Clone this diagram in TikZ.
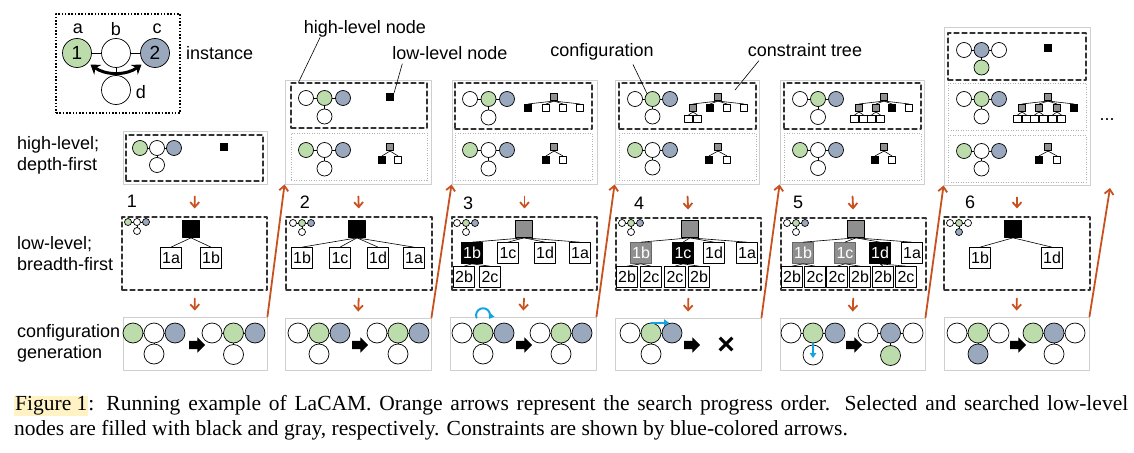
\documentclass[tikz,border=0pt]{standalone}
\usepackage{fontspec}
\setmainfont{Liberation Sans}
\newfontfamily\capfont{Liberation Serif}
\usetikzlibrary{arrows.meta,shapes.arrows,fit}
\definecolor{grn}{HTML}{BDDCAB}
\definecolor{blu}{HTML}{9AA8BD}
\definecolor{org}{HTML}{C8511F}
\definecolor{cyn}{HTML}{14A3E3}
\definecolor{sqg}{HTML}{8F8F8F}
\definecolor{hlite}{HTML}{FFF3C6}
\definecolor{frm}{HTML}{CFCFCF}
% one configuration: name, x, y, spacing, radius, fills of a b c d
\newcommand{\cfg}[9]{%
  \node[vtx, minimum size=2*#5pt, fill=#6] (#1a) at (#2,#3) {};
  \node[vtx, minimum size=2*#5pt, fill=#7] (#1b) at ({#2+#4},#3) {};
  \node[vtx, minimum size=2*#5pt, fill=#8] (#1c) at ({#2+2*#4},#3) {};
  \node[vtx, minimum size=2*#5pt, fill=#9] (#1d) at ({#2+#4},{#3+#4}) {};
  \draw[edge] (#1a) -- (#1b) -- (#1c) (#1b) -- (#1d);}
\begin{document}
\begin{tikzpicture}[x=1pt, y=-1pt, line cap=round, line join=round,
    vtx/.style={circle, draw, line width=0.7pt, inner sep=0pt},
    edge/.style={line width=0.7pt},
    lbl/.style={inner sep=0pt, font=\fontsize{18}{21}\selectfont},
    hpan/.style={draw=frm, line width=0.9pt, inner sep=0pt},
    dbox/.style={draw=black!80, dash pattern=on 5pt off 3pt, line width=1.1pt, inner sep=0pt},
    obox/.style={draw=black!30, dash pattern=on 1pt off 1.5pt, line cap=butt, line width=0.6pt, inner sep=0pt},
    sq/.style={draw, line width=0.6pt, minimum size=7.5pt, inner sep=0pt},
    sqk/.style={sq, fill=black},
    sqh/.style={sq, fill=sqg},
    sqw/.style={sq, fill=white},
    root/.style={draw, line width=0.7pt, minimum size=17pt, inner sep=0pt},
    lnode/.style={draw, line width=0.7pt, fill=white, minimum width=21pt, minimum height=21pt,
      inner sep=0.5pt, font=\fontsize{16}{16}\selectfont},
    lsel/.style={lnode, fill=black, text=white},
    lold/.style={lnode, fill=sqg, draw=black!60, text=white},
    tline/.style={line width=0.6pt},
    prog/.style={org, line width=1.8pt, -{Straight Barb[length=5pt,width=9pt]}},
    cstr/.style={cyn, line width=2pt, -{Triangle[length=5pt,width=6.5pt]}},
    fwd/.style={single arrow, fill=black, inner sep=4pt, minimum height=16pt,
      single arrow head extend=3.5pt}]
  \fill[white] (0,0) rectangle (1134,452);
  \useasboundingbox (0,0) rectangle (1134,452);

  % instance
  \node[draw, dash pattern=on 1.6pt off 1.7pt, line cap=butt, line width=2.4pt, inner sep=0pt,
    fit={(56,14) (180,113)}] (inst) {};
  \node[vtx, minimum size=29pt, fill=grn, font=\fontsize{19}{19}\selectfont] (ia) at (77,53) {1};
  \node[vtx, minimum size=29pt, fill=white] (ib) at (116,53) {};
  \node[vtx, minimum size=29pt, fill=blu, font=\fontsize{19}{19}\selectfont] (ic) at (155,53) {2};
  \node[vtx, minimum size=29pt, fill=white] (id) at (116,90) {};
  \draw[edge] (ia) -- (ib) -- (ic) (ib) -- (id);
  \draw[line width=3pt, {Stealth[length=9pt,width=12pt]}-{Stealth[length=9pt,width=12pt]}]
    ([shift={(3,1)}]ia.south east) .. controls +(15,11) and +(-15,11) .. ([shift={(-3,1)}]ic.south west);
  \node[lbl] (la) at (78,29) {a};
  \node[lbl] (lb) at (116,29) {b};
  \node[lbl] (lc) at (157,29) {c};
  \node[lbl] (ld) at (141,92) {d};
  \node[lbl, anchor=west] (instlbl) at (186,53) {instance};

  % row labels
  \node[lbl, anchor=west, align=left] (rowh) at (17,155) {high-level;\\depth-first};
  \node[lbl, anchor=west, align=left] (rowl) at (17,254) {low-level;\\breadth-first};
  \node[lbl, anchor=west, align=left] (rowc) at (17,343) {configuration\\generation};

  % notes
  \node[lbl] (hlnote) at (365,29) {high-level node};
  \node[lbl] (llnote) at (450,53) {low-level node};
  \node[lbl] (cfgnote) at (602,52) {configuration};
  \node[lbl] (ctnote) at (805,50) {constraint tree};

  % ---- step 1
  \node[hpan, fit={(123,131) (267,184)}] (hp1) {};
  \node[dbox, fit={(126,135) (263,181)}] (h1) {};
  \cfg{h1g}{140}{148}{17}{7.5}{grn}{white}{blu}{white}
  \node[sqk] (s1a) at (224,147) {};
  \node[lbl] (n1) at (132,201) {1};
  \node[dbox, fit={(122,217) (267,290)}] (lb1) {};
  \cfg{l1g}{128}{222}{9}{3.5}{grn}{white}{blu}{white}
  \node[root, fill=black] (r1) at (191,229) {};
  \node[lnode] (r1a) at (171,258) {1a};
  \node[lnode] (r1b) at (211,258) {1b};
  \draw[tline] (r1.south) -- (r1a.north) (r1.south) -- (r1b.north);
  \node[hpan, fit={(123,317) (267,370)}] (cg1) {};
  \cfg{c1l}{133}{333}{21}{10}{grn}{white}{blu}{white}
  \node[fwd] (f1) at (195,345) {};
  \cfg{c1r}{212}{333}{21.5}{10}{white}{grn}{blu}{white}

  % ---- step 2
  \node[hpan, fit={(285,80) (431,184)}] (hp2) {};
  \node[dbox, fit={(291,83) (427,128)}] (h2) {};
  \node[obox, fit={(291,133) (427,180)}] (h2o) {};
  \cfg{h2g}{306}{98}{18.5}{7.5}{white}{grn}{blu}{white}
  \node[sqk] (s2a) at (390,97) {};
  \cfg{h2k}{306}{150}{18.5}{7.5}{grn}{white}{blu}{white}
  \node[sqh] (t2r) at (390,147) {};
  \node[sqk] (t2a) at (382,160) {};
  \node[sqw] (t2b) at (398,160) {};
  \draw[tline] (t2r.south) -- (t2a.north) (t2r.south) -- (t2b.north);
  \draw[tline] ([shift={(-45,0)}]hlnote.south) -- ([shift={(8,0)}]h2.north west);
  \draw[tline] ([shift={(10,4)}]llnote.south west) -- (s2a.north east);
  \node[lbl] (n2) at (305,202) {2};
  \node[dbox, fit={(286,217) (432,290)}] (lb2) {};
  \cfg{l2g}{293}{223}{9}{3.5}{white}{grn}{blu}{white}
  \node[root, fill=black] (r2) at (357,229) {};
  \node[lnode] (r2a) at (302,258) {1b};
  \node[lnode] (r2b) at (340,258) {1c};
  \node[lnode] (r2c) at (378,258) {1d};
  \node[lnode] (r2d) at (414,258) {1a};
  \foreach \q in {r2a,r2b,r2c,r2d} \draw[tline] (r2.south) -- (\q.north);
  \node[hpan, fit={(285,318) (431,370)}] (cg2) {};
  \cfg{c2l}{298}{333}{21}{10}{white}{grn}{blu}{white}
  \node[fwd] (f2) at (358,345) {};
  \cfg{c2r}{377}{333}{21}{10}{white}{grn}{blu}{white}

  % ---- step 3
  \node[hpan, fit={(452,80) (597,184)}] (hp3) {};
  \node[dbox, fit={(455,83) (592,129)}] (h3) {};
  \node[obox, fit={(455,133) (592,180)}] (h3o) {};
  \cfg{h3g}{470}{99}{18.5}{7.5}{white}{grn}{blu}{white}
  \node[sqh] (u3r) at (554,97) {};
  \node[sqk] (u3a) at (528,108) {};
  \node[sqw] (u3b) at (546,108) {};
  \node[sqw] (u3c) at (563,108) {};
  \node[sqw] (u3d) at (580,108) {};
  \foreach \q in {u3a,u3b,u3c,u3d} \draw[tline] (u3r.south) -- (\q.north);
  \cfg{h3k}{470}{150}{18.5}{7.5}{grn}{white}{blu}{white}
  \node[sqh] (t3r) at (554,147) {};
  \node[sqk] (t3a) at (546,160) {};
  \node[sqw] (t3b) at (563,160) {};
  \draw[tline] (t3r.south) -- (t3a.north) (t3r.south) -- (t3b.north);
  \node[lbl] (n3) at (468,203) {3};
  \node[dbox, fit={(452,217) (597,290)}] (lb3) {};
  \cfg{l3g}{457}{223}{9}{3.5}{white}{grn}{blu}{white}
  \node[root, fill=sqg] (r3) at (524,229) {};
  \node[lsel] (r3a) at (472,253) {1b};
  \node[lnode] (r3b) at (508,253) {1c};
  \node[lnode] (r3c) at (545,253) {1d};
  \node[lnode] (r3d) at (580,253) {1a};
  \foreach \q in {r3a,r3b,r3c,r3d} \draw[tline] (r3.south) -- (\q.north);
  \node[lnode] (r3aa) at (464,277) {2b};
  \node[lnode] (r3ab) at (490,277) {2c};
  \draw[tline] (r3a.south) -- (r3aa.north) (r3a.south) -- (r3ab.north);
  \node[hpan, fit={(450,317) (596,370)}] (cg3) {};
  \cfg{c3l}{462}{333}{21}{10}{white}{grn}{blu}{white}
  \draw[cstr] ([shift={(-6.5,-5)}]c3lb.north) arc[start angle=160, end angle=392, radius=7];
  \node[fwd] (f3) at (522,345) {};
  \cfg{c3r}{540}{333}{21}{10}{white}{grn}{blu}{white}

  % ---- step 4
  \node[hpan, fit={(615,80) (759,184)}] (hp4) {};
  \node[dbox, fit={(619,83) (756,129)}] (h4) {};
  \node[obox, fit={(619,133) (756,180)}] (h4o) {};
  \cfg{h4g}{635}{99}{17.5}{7.5}{white}{grn}{blu}{white}
  \node[sqh] (u4r) at (718,97) {};
  \node[sqh] (u4a) at (693,108) {};
  \node[sqk] (u4b) at (710,108) {};
  \node[sqw] (u4c) at (727,108) {};
  \node[sqw] (u4d) at (744,108) {};
  \foreach \q in {u4a,u4b,u4c,u4d} \draw[tline] (u4r.south) -- (\q.north);
  \node[sqw] (u4aa) at (688.5,119) {};
  \node[sqw] (u4ab) at (697.5,119) {};
  \draw[tline] (u4a.south) -- (u4aa.north) (u4a.south) -- (u4ab.north);
  \cfg{h4k}{635}{150}{17.5}{7.5}{grn}{white}{blu}{white}
  \node[sqh] (t4r) at (718,147) {};
  \node[sqk] (t4a) at (709,160) {};
  \node[sqw] (t4b) at (727,160) {};
  \draw[tline] (t4r.south) -- (t4a.north) (t4r.south) -- (t4b.north);
  \coordinate (ctend) at (735,90);
  \draw[tline] ([shift={(31,4)}]cfgnote.south) -- (h4gb.north west);
  \draw[tline] ([shift={(11,4)}]ctnote.south west) -- (ctend);
  \node[lbl] (n4) at (639,203) {4};
  \node[dbox, fit={(616,218) (761,290)}] (lb4) {};
  \cfg{l4g}{622}{223}{9}{3.5}{white}{grn}{blu}{white}
  \node[root, fill=sqg] (r4) at (690,229) {};
  \node[lold] (r4a) at (641,253) {1b};
  \node[lsel] (r4b) at (683,253) {1c};
  \node[lnode] (r4c) at (714,253) {1d};
  \node[lnode] (r4d) at (747,253) {1a};
  \foreach \q in {r4a,r4b,r4c,r4d} \draw[tline] (r4.south) -- (\q.north);
  \node[lnode] (r4aa) at (627,277) {2b};
  \node[lnode] (r4ab) at (651,277) {2c};
  \node[lnode] (r4ba) at (675,277) {2c};
  \node[lnode] (r4bb) at (699,277) {2b};
  \draw[tline] (r4a.south) -- (r4aa.north) (r4a.south) -- (r4ab.north);
  \draw[tline] (r4b.south) -- (r4ba.north) (r4b.south) -- (r4bb.north);
  \node[hpan, fit={(615,318) (761,370)}] (cg4) {};
  \cfg{c4l}{630}{333}{21}{10}{white}{grn}{blu}{white}
  \draw[cstr, shorten >=3pt] (c4lb.north) -- (c4lc.north);
  \node[fwd] (f4) at (690,345) {};
  \node[font=\fontsize{30}{30}\selectfont\bfseries, inner sep=0pt] (fail) at (726,346) {×};

  % ---- step 5
  \node[hpan, fit={(780,80) (924,184)}] (hp5) {};
  \node[dbox, fit={(784,83) (921,129)}] (h5) {};
  \node[obox, fit={(784,133) (921,180)}] (h5o) {};
  \cfg{h5g}{800}{99}{18}{7.5}{white}{grn}{blu}{white}
  \node[sqh] (u5r) at (884,97) {};
  \node[sqh] (u5a) at (859,108) {};
  \node[sqh] (u5b) at (876,108) {};
  \node[sqk] (u5c) at (892,108) {};
  \node[sqw] (u5d) at (909,108) {};
  \foreach \q in {u5a,u5b,u5c,u5d} \draw[tline] (u5r.south) -- (\q.north);
  \node[sqw] (u5aa) at (854.5,119) {};
  \node[sqw] (u5ab) at (863.5,119) {};
  \node[sqw] (u5ba) at (871.5,119) {};
  \node[sqw] (u5bb) at (880.5,119) {};
  \draw[tline] (u5a.south) -- (u5aa.north) (u5a.south) -- (u5ab.north);
  \draw[tline] (u5b.south) -- (u5ba.north) (u5b.south) -- (u5bb.north);
  \cfg{h5k}{800}{150}{18}{7.5}{grn}{white}{blu}{white}
  \node[sqh] (t5r) at (884,147) {};
  \node[sqk] (t5a) at (875,160) {};
  \node[sqw] (t5b) at (892,160) {};
  \draw[tline] (t5r.south) -- (t5a.north) (t5r.south) -- (t5b.north);
  \node[lbl] (n5) at (798,202) {5};
  \node[dbox, fit={(781,218) (926,290)}] (lb5) {};
  \cfg{l5g}{787}{223}{9}{3.5}{white}{grn}{blu}{white}
  \node[root, fill=sqg] (r5) at (856,229) {};
  \node[lold] (r5a) at (803,253) {1b};
  \node[lold] (r5b) at (845,253) {1c};
  \node[lsel] (r5c) at (880,253) {1d};
  \node[lnode] (r5d) at (912,253) {1a};
  \foreach \q in {r5a,r5b,r5c,r5d} \draw[tline] (r5.south) -- (\q.north);
  \node[lnode] (r5aa) at (792,277) {2b};
  \node[lnode] (r5ab) at (815,277) {2c};
  \node[lnode] (r5ba) at (837,277) {2c};
  \node[lnode] (r5bb) at (860,277) {2b};
  \node[lnode] (r5ca) at (883,277) {2b};
  \node[lnode] (r5cb) at (906,277) {2c};
  \draw[tline] (r5a.south) -- (r5aa.north) (r5a.south) -- (r5ab.north);
  \draw[tline] (r5b.south) -- (r5ba.north) (r5b.south) -- (r5bb.north);
  \draw[tline] (r5c.south) -- (r5ca.north) (r5c.south) -- (r5cb.north);
  \node[hpan, fit={(780,318) (925,370)}] (cg5) {};
  \cfg{c5l}{791}{333}{22}{10}{white}{grn}{blu}{white}
  \draw[cstr] (c5lb.south) -- ([shift={(0,3)}]c5ld.center);
  \node[fwd] (f5) at (852,345) {};
  \cfg{c5r}{868}{333}{22.5}{10}{white}{blu}{white}{grn}

  % ---- step 6
  \node[hpan, fit={(944,27) (1090,185)}] (hp6) {};
  \node[dbox, fit={(948,33) (1086,80)}] (h6) {};
  \node[obox, fit={(948,83) (1086,130)}] (h6o) {};
  \node[obox, fit={(948,135) (1086,182)}] (h6p) {};
  \cfg{h6g}{964}{50}{17.5}{7.5}{white}{blu}{white}{grn}
  \node[sqk] (s6a) at (1048,48) {};
  \cfg{h6k}{964}{99}{17.5}{7.5}{white}{grn}{blu}{white}
  \node[sqh] (u6r) at (1048,97) {};
  \node[sqh] (u6a) at (1022,108) {};
  \node[sqh] (u6b) at (1039,108) {};
  \node[sqh] (u6c) at (1057,108) {};
  \node[sqk] (u6d) at (1074,108) {};
  \foreach \q in {u6a,u6b,u6c,u6d} \draw[tline] (u6r.south) -- (\q.north);
  \foreach \p/\a/\b in {u6a/1017.5/1026.5, u6b/1034.5/1043.5, u6c/1052.5/1061.5} {
    \node[sqw] (\p x) at (\a,119) {};
    \node[sqw] (\p y) at (\b,119) {};
    \draw[tline] (\p.south) -- (\p x.north) (\p.south) -- (\p y.north);
  }
  \cfg{h6m}{964}{151}{17.5}{7.5}{grn}{white}{blu}{white}
  \node[sqh] (t6r) at (1048,147) {};
  \node[sqk] (t6a) at (1039,160) {};
  \node[sqw] (t6b) at (1057,160) {};
  \draw[tline] (t6r.south) -- (t6a.north) (t6r.south) -- (t6b.north);
  \node[lbl] (more) at (1107,120) {...};
  \node[lbl] (n6) at (970,202) {6};
  \node[dbox, fit={(944,217) (1090,290)}] (lb6) {};
  \cfg{l6g}{950}{223}{9}{3.5}{white}{grn}{white}{blu}
  \node[root, fill=black] (r6) at (1013,229) {};
  \node[lnode] (r6a) at (980,258) {1b};
  \node[lnode] (r6b) at (1052,258) {1d};
  \draw[tline] (r6.south) -- (r6a.north) (r6.south) -- (r6b.north);
  \node[hpan, fit={(944,317) (1089,370)}] (cg6) {};
  \cfg{c6l}{957}{333}{21}{10}{white}{grn}{white}{blu}
  \node[fwd] (f6) at (1016,345) {};
  \cfg{c6r}{1033}{333}{21}{10}{grn}{blu}{white}{white}
  \coordinate (next) at (1110,188);

  % search order
  \foreach \i in {1,...,6} {
    \draw[prog, shorten <=12pt, shorten >=8pt] (hp\i.south) -- (lb\i.north);
    \draw[prog, shorten <=8pt, shorten >=6pt] (lb\i.south) -- (cg\i.north);
  }
  \foreach \i/\j in {1/2,2/3,3/4,4/5,5/6} \draw[prog] (cg\i.north east) -- (hp\j.south west);
  \draw[prog] (cg6.north east) -- (next);

  % caption
  \node[anchor=west, inner sep=0pt, font=\capfont\fontsize{21.5}{24}\selectfont] (cap1) at (14,406)
    {\makebox[1114pt][s]{{\fboxsep=1pt\colorbox{hlite}{Figure 1}}: Running example of LaCAM. Orange arrows represent the search progress order. Selected and searched low-level}};
  \node[anchor=west, inner sep=0pt, font=\capfont\fontsize{21.5}{24}\selectfont] (cap2) at (14,430)
    {nodes are filled with black and gray, respectively. Constraints are shown by blue-colored arrows.};
\end{tikzpicture}
\end{document}
